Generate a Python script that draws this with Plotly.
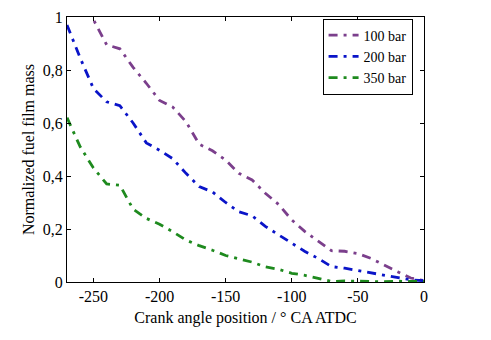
import plotly.graph_objects as go

crank_angle = [-270, -260, -250, -240, -230, -220, -210, -200, -190, -180,
               -170, -160, -150, -140, -130, -120, -110, -100, -90, -80,
               -70, -60, -50, -40, -30, -20, -10, 0]

mass_100bar = [1.20, 1.09, 0.99, 0.895, 0.88, 0.81, 0.75, 0.685, 0.66, 0.605,
               0.52, 0.495, 0.46, 0.41, 0.385, 0.335, 0.293, 0.234, 0.19, 0.155,
               0.118, 0.116, 0.107, 0.089, 0.063, 0.039, 0.015, 0.005]

mass_200bar = [0.97, 0.845, 0.73, 0.68, 0.665, 0.60, 0.525, 0.497, 0.465, 0.41,
               0.36, 0.34, 0.30, 0.265, 0.25, 0.21, 0.178, 0.145, 0.115, 0.089,
               0.058, 0.052, 0.043, 0.034, 0.024, 0.016, 0.008, 0.005]

mass_350bar = [0.62, 0.51, 0.43, 0.37, 0.365, 0.275, 0.24, 0.218, 0.19, 0.158,
               0.137, 0.12, 0.10, 0.088, 0.075, 0.057, 0.048, 0.033, 0.025, 0.014,
               0.002, 0.004, 0.004, 0.002, 0.001, 0.003, 0.002, 0.002]

series_names = ["100 bar", "200 bar", "350 bar"]
series_colors = ["#7B3F8C", "#0A14C8", "#1E8A1E"]

x_tickvals = [-250, -200, -150, -100, -50, 0]
x_ticktext = ["-250", "-200", "-150", "-100", "-50", "0"]
y_tickvals = [0, 0.2, 0.4, 0.6, 0.8, 1]
y_ticktext = ["0", "0,2", "0,4", "0,6", "0,8", "1"]

font_family = "'Liberation Serif', 'Times New Roman', 'DejaVu Serif', serif"

fig = go.Figure()
for name, vals, col in zip(series_names, [mass_100bar, mass_200bar, mass_350bar], series_colors):
    fig.add_trace(go.Scatter(
        x=crank_angle, y=vals, name=name, mode="lines",
        line=dict(color=col, width=2.8, dash="9px,6px,3px,6px"),
    ))

axis_common = dict(
    showline=True, linecolor="black", linewidth=1, mirror="ticks",
    ticks="inside", ticklen=4, tickcolor="black", showgrid=False, zeroline=False,
    tickfont=dict(family=font_family, size=16, color="black"),
)

fig.update_layout(
    width=491, height=340,
    margin=dict(l=67, r=67, t=9, b=58),
    paper_bgcolor="white", plot_bgcolor="white",
    font=dict(family=font_family, size=16, color="black"),
    showlegend=True,
    legend=dict(
        x=0.968, y=0.994, xanchor="right", yanchor="top",
        bgcolor="white", bordercolor="black", borderwidth=1,
        font=dict(family=font_family, size=14, color="black"),
        tracegroupgap=0, itemwidth=30,
    ),
    xaxis=dict(range=[-270, 0], tickvals=x_tickvals, ticktext=x_ticktext,
               title=dict(text="Crank angle position / ° CA ATDC", standoff=7,
                          font=dict(family=font_family, size=16)),
               **axis_common),
    yaxis=dict(range=[0, 1], tickvals=y_tickvals, ticktext=y_ticktext,
               title=dict(text="Normalized fuel film mass", standoff=4,
                          font=dict(family=font_family, size=16)),
               **axis_common),
)

fig.write_html("out.html")
